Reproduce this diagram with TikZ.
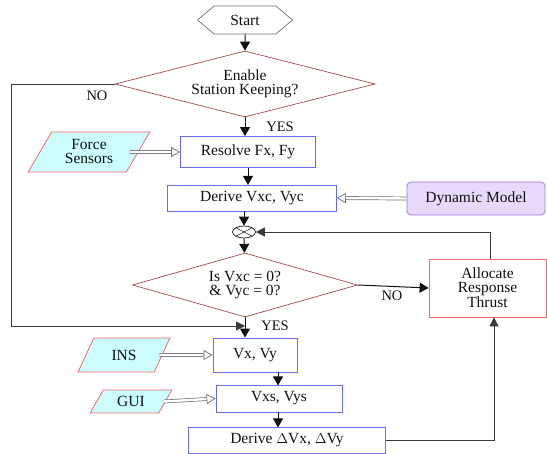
\documentclass[tikz,border=0pt]{standalone}
\usepackage{fontspec}
\setmainfont{Liberation Serif}
\usetikzlibrary{arrows.meta,calc,shapes.geometric,shapes.symbols}
\definecolor{flowink}{HTML}{111111}
\definecolor{flowline}{HTML}{3A3A3A}
\definecolor{flowgray}{HTML}{6E6E6E}
\definecolor{flowblue}{HTML}{6A6AF2}
\definecolor{flowred}{HTML}{A24C4C}
\definecolor{flowpink}{HTML}{F26A6A}
\definecolor{flowcyan}{HTML}{CCFCFC}
\definecolor{flowviolet}{HTML}{9A7AD6}
\definecolor{flowvioletfill}{HTML}{E6D9FB}
\tikzset{
  flowtext/.style={font=\fontsize{15.5}{14}\selectfont, text=flowink},
  flowmini/.style={font=\fontsize{14.5}{14}\selectfont, text=flowink},
  startbox/.style={signal, signal to=west and east, signal pointer angle=80,
    draw=flowgray, fill=white, line width=.7pt, flowtext, inner sep=0pt},
  bluebox/.style={draw=flowblue, fill=white, line width=.9pt, flowtext,
    align=center, inner sep=0pt},
  decision/.style={diamond, draw=flowred, fill=white, line width=.7pt,
    flowtext, align=center, inner sep=0pt},
  inputbox/.style={trapezium, trapezium left angle=58, trapezium right angle=122,
    trapezium stretches=true, draw=flowpink, fill=flowcyan, line width=.8pt,
    flowtext, align=center, inner sep=0pt},
  modelbox/.style={draw=flowviolet, fill=flowvioletfill, rounded corners=4pt,
    line width=.8pt, flowtext, align=center, inner sep=0pt},
  thrustbox/.style={draw=flowpink, fill=white, line width=.8pt, flowtext,
    align=center, inner sep=0pt},
  sumnode/.style={ellipse, draw=flowink, line width=.7pt, inner sep=0pt,
    minimum width=23pt, minimum height=12pt,
    path picture={\draw[line width=.5pt] (path picture bounding box.south west)
      -- (path picture bounding box.north east)
      (path picture bounding box.north west)
      -- (path picture bounding box.south east);}},
  flow/.style={-{Triangle[length=9pt,width=10pt]}, draw=flowink, line width=1pt},
  feed/.style={-{Triangle[length=9pt,width=9pt]}, draw=flowline, line width=.8pt},
  hollowflow/.style={-{Triangle[open,length=9pt,width=10pt]}, draw=flowgray,
    double=white, double distance=2.4pt, line width=.7pt}
}

\begin{document}
\begin{tikzpicture}[x=1pt,y=-1pt]
  \useasboundingbox (0,0) rectangle (547,454);

  \node[startbox, minimum width=95pt, minimum height=28pt] (start) at (245,20) {Start};
  \node[decision, aspect=3.9, minimum width=260pt, minimum height=66pt] (enable)
    at (245,84) {Enable\\Station Keeping?};
  \node[bluebox, minimum width=135pt, minimum height=31pt] (resolve) at (248,152)
    {Resolve Fx, Fy};
  \node[inputbox, minimum width=122pt, minimum height=40pt] (force) at (89,152)
    {Force\\Sensors};
  \node[bluebox, minimum width=169pt, minimum height=26pt] (derivec) at (252,198)
    {Derive Vxc, Vyc};
  \node[modelbox, minimum width=138pt, minimum height=33pt] (dynmodel) at (476,198.5)
    {Dynamic Model};
  \node[sumnode] (sum) at (244,232) {};
  \node[decision, aspect=3.5, minimum width=225pt, minimum height=64pt] (iszero)
    at (245,285) {Is Vxc = 0?\\\& Vyc = 0?};
  \node[thrustbox, minimum width=117pt, minimum height=58pt] (allocate) at (487.5,288)
    {Allocate\\Response\\Thrust};
  \node[bluebox, minimum width=84pt, minimum height=34pt] (vxvy) at (255,355) {Vx, Vy};
  \node[inputbox, minimum width=92pt, minimum height=34pt] (ins) at (124,355) {INS};
  \node[bluebox, minimum width=126pt, minimum height=27pt] (vxsvys) at (279,398.5)
    {Vxs, Vys};
  \node[inputbox, minimum width=82pt, minimum height=23pt] (gui) at (131,401.5) {GUI};
  \node[bluebox, minimum width=197pt, minimum height=26pt] (deltav) at (287,440)
    {Derive $\Delta$Vx, $\Delta$Vy};

  \coordinate (merge) at (245,326);
  \coordinate (loopleft) at (11,326);

  \draw[flow] (start) -- (enable);
  \draw[flow] (enable.south) -- (enable.south |- resolve.north);
  \draw[feed] (enable.west) -| (loopleft) -- (merge);
  \draw[flow] (resolve.south -| derivec.north) ++(-4,0) -- ++(0,17);
  \draw[flow] (derivec.south -| sum.north) -- (sum.north);
  \draw[flow] (sum) -- (iszero);
  \draw[flow] (iszero.east) -- (allocate.west);
  \draw[feed] ([xshift=3pt]allocate.north) |- (sum.east);
  \draw[flow] (iszero.south) -- (iszero.south |- vxvy.north);
  \draw[flow] (vxvy.south -| vxsvys.north) ++(-1,0) -- ++(0,13);
  \draw[flow] (vxsvys.south -| vxsvys.north) ++(-1,0) -- ++(0,15);
  \draw[feed] (deltav.east) -| ([xshift=6.5pt]allocate.south);

  \draw[hollowflow] ([xshift=-9pt]force.east) -- (resolve.west);
  \draw[hollowflow] (dynmodel.west) -- (derivec.east);
  \draw[hollowflow] ([xshift=-3pt]ins.east) -- (vxvy.west);
  \draw[hollowflow] ([xshift=-2pt]gui.east) -- (vxsvys.west);

  \node[flowmini] (noleft) at (97,96) {NO};
  \node[flowmini] (yestop) at (280,127) {YES};
  \node[flowmini] (noright) at (392,296) {NO};
  \node[flowmini] (yesbottom) at (275,326) {YES};
\end{tikzpicture}
\end{document}
